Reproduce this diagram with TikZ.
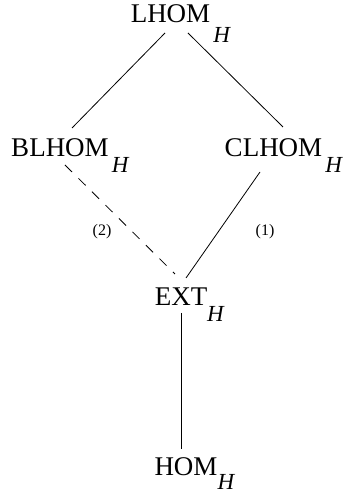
\documentclass[tikz,border=0pt]{standalone}
\usepackage{fontspec}
\setmainfont{Liberation Serif}
\usepackage{tikz}
\usetikzlibrary{positioning}

\newcommand{\Hsub}[2]{\rlap{\kern#1\raisebox{-#2}{\fontsize{23}{23}\selectfont\itshape H}}}

\begin{document}
\begin{tikzpicture}[
    x=1pt, y=1pt,
    lattice/.style={inner sep=0pt, anchor=base, font=\fontsize{27}{27}\selectfont},
    tag/.style={inner sep=0pt, font=\fontsize{16}{16}\selectfont},
    line/.style={line width=0.8pt},
    weak/.style={line width=0.8pt, dash pattern=on 10pt off 9pt}
  ]
    \useasboundingbox (0,0) rectangle (351,495);

    \node[lattice] (lhom) at (170.5,472) {LHOM\Hsub{3pt}{20pt}};
    \node[lattice] (blhom) at (60,338) {BLHOM\Hsub{3pt}{16pt}};
    \node[lattice] (clhom) at (273.5,338) {CLHOM\Hsub{3pt}{16pt}};
    \node[lattice] (ext) at (181,189) {EXT\Hsub{0pt}{16pt}};
    \node[lattice] (hom) at (186,19) {HOM\Hsub{0pt}{14pt}};

    \node[tag] (two) at (102,263) {(2)};
    \node[tag] (one) at (265,263) {(1)};

    \draw[line] ([shift={(-5.5,-10)}]lhom.base) -- ([shift={(12,29)}]blhom.base);
    \draw[line] ([shift={(17.5,-10)}]lhom.base) -- ([shift={(9.5,30)}]clhom.base);
    \draw[weak] ([shift={(5,-8)}]blhom.base) -- ([shift={(-6,32)}]ext.base);
    \draw[line] ([shift={(-13.5,-15)}]clhom.base) -- ([shift={(5,28)}]ext.base);
    \draw[line] ([shift={(0,-7)}]ext.base) -- ([shift={(-5,27)}]hom.base);
  \end{tikzpicture}
\end{document}
